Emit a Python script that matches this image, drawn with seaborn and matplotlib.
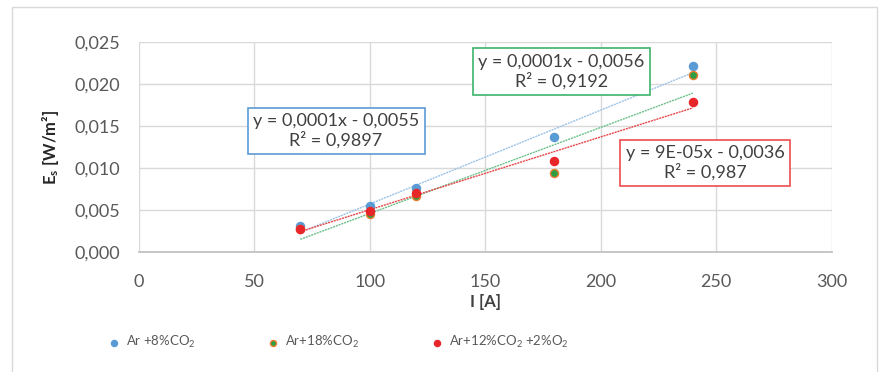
import numpy as np
import pandas as pd
import matplotlib
matplotlib.use("Agg")
import matplotlib.pyplot as plt
import matplotlib.ticker as mticker
from matplotlib.patches import Rectangle
import seaborn as sns

# ---- data ----
current = [70, 100, 120, 180, 240]
es_ar8co2 = [0.00313, 0.00548, 0.00758, 0.01365, 0.02214]
es_ar18co2 = [0.00270, 0.00450, 0.00670, 0.00944, 0.02107]
es_ar12co2_2o2 = [0.00277, 0.00490, 0.00700, 0.01080, 0.01786]
series_names = ["Ar +8%CO$_2$", "Ar+18%CO$_2$", "Ar+12%CO$_2$ +2%O$_2$"]
equations = ["y = 0,0001x - 0,0055\nR² = 0,9897",
             "y = 0,0001x - 0,0056\nR² = 0,9192",
             "y = 9E-05x - 0,0036\nR² = 0,987"]
x_ticks = [0, 50, 100, 150, 200, 250, 300]
y_ticks = [0.0, 0.005, 0.010, 0.015, 0.020, 0.025]

sns.set_theme(style="white")
plt.rcParams['font.family'] = ['Lato', 'DejaVu Sans']
plt.rcParams['mathtext.fontset'] = 'custom'
plt.rcParams['mathtext.rm'] = 'Lato'
plt.rcParams['mathtext.it'] = 'Lato:italic'
plt.rcParams['mathtext.bf'] = 'Lato:bold'

fill_colors = ["#5B9BD5", "#2E9E44", "#E8262A"]
edge_colors = ["#5B9BD5", "#ED7D31", "#E8262A"]
line_colors = ["#9DC3E6", "#6CC08B", "#E8474A"]
box_colors = ["#5B9BD5", "#3DB36B", "#EE4B4E"]

df = pd.DataFrame({
    "I": current * 3,
    "Es": es_ar8co2 + es_ar18co2 + es_ar12co2_2o2,
    "series": sum([[n] * len(current) for n in series_names], []),
})

fig = plt.figure(figsize=(8.83, 3.72), dpi=100)
ax = fig.add_axes([0.157, 0.3226, 0.7847, 0.5645])

for i, name in enumerate(series_names):
    sub = df[df["series"] == name]
    sns.regplot(data=sub, x="I", y="Es", ax=ax, scatter=False, ci=None,
                truncate=True,
                line_kws=dict(color=line_colors[i], lw=1.0, linestyle=(0, (1.5, 0.6))))
for i, name in enumerate(series_names):
    sub = df[df["series"] == name]
    sns.scatterplot(data=sub, x="I", y="Es", ax=ax, color=fill_colors[i],
                    edgecolor=edge_colors[i], linewidth=1.0, s=34, label=name,
                    zorder=5)

ax.set_xlim(0, 300)
ax.set_ylim(0, 0.025)
ax.set_xticks(x_ticks)
ax.set_yticks(y_ticks)
ax.yaxis.set_major_formatter(mticker.FuncFormatter(lambda v, p: f"{v:.3f}".replace(".", ",")))
ax.grid(True, color="#D9D9D9", lw=1.0)
ax.set_axisbelow(True)
for s in ["top", "right", "left"]:
    ax.spines[s].set_visible(False)
ax.spines["bottom"].set_color("#BFBFBF")
ax.tick_params(axis="x", length=0, labelsize=13, labelcolor="#595959", pad=16)
ax.tick_params(axis="y", length=0, labelsize=13, labelcolor="#595959", pad=13)

ax.set_xlabel("I [A]", fontsize=12, fontweight="bold", color="#404040", labelpad=3)
ax.set_ylabel("E$_\\mathbf{s}$ [W/m²]", fontsize=12, fontweight="bold", color="#262626", labelpad=10)

box_pos = [(85.5, 0.0144), (182.9, 0.0215), (245.2, 0.0106)]
for i, txt in enumerate(equations):
    ax.text(box_pos[i][0], box_pos[i][1], txt, ha="center", va="center",
            fontsize=13, color="#404040", linespacing=1.15, zorder=6,
            bbox=dict(boxstyle="square,pad=0.3", fc="white", ec=box_colors[i], lw=1.2))

ax.get_legend().remove()
handles, labels = ax.get_legend_handles_labels()
leg = fig.legend(handles, labels, loc="center left", bbox_to_anchor=(94 / 883, 0.08), ncol=3,
                 frameon=False, fontsize=9.5, handletextpad=0.3, columnspacing=5.3,
                 markerscale=0.75, labelcolor="#595959", handlelength=1.2)

fig.patches.append(Rectangle((12 / 883, -0.01), (877 - 12) / 883, 1 - 7 / 372 + 0.01,
                             transform=fig.transFigure, fill=False, ec="#D9D9D9", lw=1.0))

fig.savefig("out.png", dpi=100)
